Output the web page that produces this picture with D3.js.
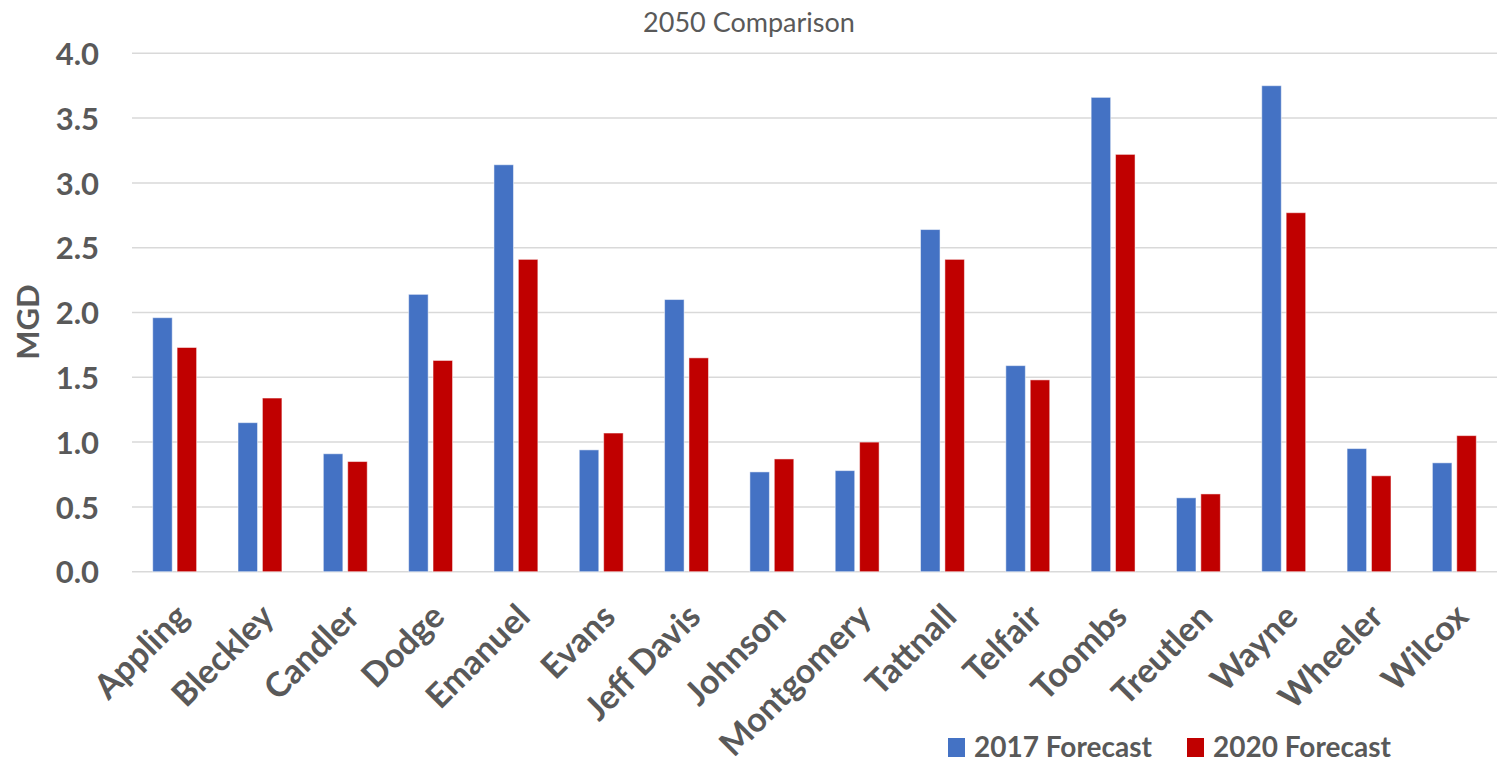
<!DOCTYPE html>
<html>
<head>
<meta charset="utf-8">
<script src="https://cdn.jsdelivr.net/npm/d3@7"></script>
<style>
  html, body { margin: 0; padding: 0; background: #fff; }
  svg { display: block; }
  text { font-family: Lato, "Open Sans", sans-serif; fill: #595959; }
</style>
</head>
<body>
<svg id="chart" width="1500" height="763"></svg>
<script>
// Counties and their 2050 demand forecasts (MGD)
const counties = ["Appling", "Bleckley", "Candler", "Dodge", "Emanuel", "Evans", "Jeff Davis", "Johnson",
  "Montgomery", "Tattnall", "Telfair", "Toombs", "Treutlen", "Wayne", "Wheeler", "Wilcox"];
const forecast2017 = [1.96, 1.15, 0.91, 2.14, 3.14, 0.94, 2.10, 0.77, 0.78, 2.64, 1.59, 3.66, 0.57, 3.75, 0.95, 0.84];
const forecast2020 = [1.73, 1.34, 0.85, 1.63, 2.41, 1.07, 1.65, 0.87, 1.00, 2.41, 1.48, 3.22, 0.60, 2.77, 0.74, 1.05];
const seriesNames = ["2017 Forecast", "2020 Forecast"];
const seriesColors = ["#4472C4", "#C00000"];
const yTicks = [0, 0.5, 1.0, 1.5, 2.0, 2.5, 3.0, 3.5, 4.0];
const chartTitle = "2050 Comparison";
const yTitle = "MGD";

const svg = d3.select("#chart");
const plot = { left: 132, right: 1497, top: 53.3, bottom: 571.7 };

const x0 = d3.scaleBand().domain(counties).range([plot.left, plot.right]).padding(0);
const groupW = 43.9;
const x1 = d3.scaleBand().domain(seriesNames).range([0, groupW]).paddingInner(0.2).paddingOuter(0);
const y = d3.scaleLinear().domain([0, 4]).range([plot.bottom, plot.top]);

// Title
svg.append("text")
  .attr("x", 749).attr("y", 32)
  .attr("text-anchor", "middle")
  .style("font-size", "27px")
  .text(chartTitle);

// Gridlines
svg.append("g")
  .selectAll("line")
  .data(yTicks)
  .join("line")
  .attr("x1", plot.left).attr("x2", plot.right)
  .attr("y1", d => y(d)).attr("y2", d => y(d))
  .attr("stroke", "#D9D9D9")
  .attr("stroke-width", 1.5);

// Y axis labels
const yAxis = d3.axisLeft(y).tickValues(yTicks).tickFormat(d3.format(".1f")).tickSize(0).tickPadding(33);
const yg = svg.append("g").attr("transform", `translate(${plot.left},0)`).call(yAxis);
yg.select(".domain").remove();
yg.selectAll("text")
  .style("font-size", "31px")
  .style("font-weight", "700")
  .style("font-family", "Lato, sans-serif")
  .attr("fill", "#595959")
  .attr("dy", "0.36em");

// Y axis title
svg.append("text")
  .attr("transform", "translate(39,322) rotate(-90)")
  .attr("text-anchor", "middle")
  .style("font-size", "31px")
  .style("font-weight", "700")
  .text(yTitle);

// Bars
const rows = counties.map((c, i) => ({ county: c, values: [forecast2017[i], forecast2020[i]] }));
const groups = svg.append("g")
  .selectAll("g")
  .data(rows)
  .join("g")
  .attr("transform", d => `translate(${x0(d.county) + x0.bandwidth() / 2 - groupW / 2},0)`);

groups.selectAll("rect")
  .data(d => d.values.map((v, k) => ({ name: seriesNames[k], value: v, k })))
  .join("rect")
  .attr("x", d => x1(d.name))
  .attr("width", x1.bandwidth())
  .attr("y", d => y(d.value))
  .attr("height", d => y(0) - y(d.value))
  .attr("fill", d => seriesColors[d.k])
  .attr("stroke", "#ffffff")
  .attr("stroke-opacity", 0.5)
  .attr("stroke-width", 1);

// X axis labels (rotated)
svg.append("g")
  .selectAll("text")
  .data(counties)
  .join("text")
  .attr("transform", d => `translate(${x0(d) + x0.bandwidth() / 2 - 1},${plot.bottom + 30}) rotate(-45)`)
  .attr("text-anchor", "end")
  .attr("dy", "0.71em")
  .style("font-size", "34px")
  .style("font-weight", "700")
  .text(d => d);

// Legend
const legendX = [948, 1187];
const legend = svg.append("g")
  .selectAll("g")
  .data(seriesNames)
  .join("g")
  .attr("transform", (d, i) => `translate(${legendX[i]},738)`);
legend.append("rect")
  .attr("width", 17).attr("height", 19)
  .attr("fill", (d, i) => seriesColors[i]);
legend.append("text")
  .attr("x", 26).attr("y", 19)
  .style("font-size", "28px")
  .style("font-weight", "700")
  .text(d => d);
</script>
</body>
</html>
